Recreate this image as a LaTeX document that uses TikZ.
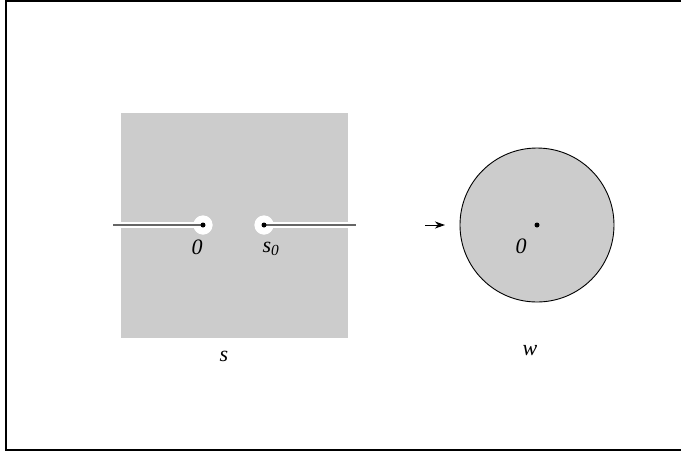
\documentclass[tikz,border=0pt]{standalone}
\usepackage{fontspec}
\setmainfont{Liberation Serif}
\usetikzlibrary{arrows.meta}
\definecolor{regiongray}{gray}{0.8}
\tikzset{
  region/.style={fill=regiongray, draw=none},
  hole/.style={circle, fill=white, minimum size=19pt, inner sep=0pt},
  dotpt/.style={circle, fill=black, minimum size=5pt, inner sep=0pt},
  slitwhite/.style={white, line width=6pt},
  slitline/.style={black!60, line width=1.6pt},
  lbl/.style={font=\fontsize{22}{24}\selectfont\itshape, inner sep=0pt},
  frameline/.style={black, line width=2pt}
}
\begin{document}
\begin{tikzpicture}[x=1pt,y=-1pt]
\useasboundingbox (0,0) rectangle (681,451);
% frame
\coordinate (fTL) at (6,1);
\coordinate (fTR) at (681,1);
\coordinate (fBL) at (6,450);
\coordinate (fBR) at (681,450);
\draw[frameline] (fTR) -- (fTL) -- (fBL) -- (fBR);
% square region
\node[region, rectangle, minimum width=227pt, minimum height=225pt, inner sep=0pt] (sq) at (234.5,225.5) {};
% slits
\coordinate (lend) at (113,225);
\coordinate (rend) at (356,225);
\node[hole] (h0) at (203,225) {};
\node[hole] (hs) at (264,225) {};
\draw[slitwhite] (lend) -- (h0.center);
\draw[slitwhite] (hs.center) -- (rend);
\node[hole] at (h0) {};
\node[hole] at (hs) {};
\draw[slitline] (lend) -- (h0.center);
\draw[slitline] (hs.center) -- (rend);
\node[dotpt] (d0) at (h0) {};
\node[dotpt] (ds) at (hs) {};
% labels
\node[lbl] (l0) at (197,247) {0};
\node[lbl] (ls) at (271,249) {s\textsubscript{0}};
\node[lbl] (lS) at (224,356) {s};
\node[lbl] (lW) at (530,351) {w};
% disc
\node[circle, fill=regiongray, draw=black, line width=0.9pt, minimum size=154pt, inner sep=0pt] (disc) at (537,225) {};
\node[dotpt] (dc) at (537,225) {};
\node[lbl] (lc) at (521,246) {0};
% arrow
\coordinate (aS) at (425,225);
\coordinate (aE) at (445,225);
\draw[-{Stealth[length=10pt,width=7pt,inset=3pt]}, line width=1pt] (aS) -- (aE);
\end{tikzpicture}
\end{document}
